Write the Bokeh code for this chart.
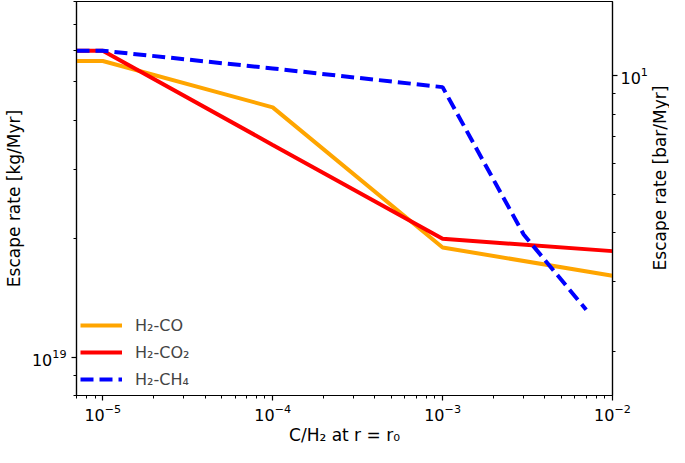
import math
from bokeh.plotting import figure
from bokeh.layouts import row
from bokeh.models import Range1d, LogScale, LogAxis, FixedTicker, LogTickFormatter
from bokeh.core.properties import value
from bokeh.embed import file_html
from bokeh.resources import INLINE

# ---- data ----
c_h2 = [7e-6, 1e-5, 1e-4, 1e-3, 1e-2]
rate_co = [5.65e19, 5.65e19, 4.31e19, 1.90e19, 1.61e19]
rate_co2 = [6.0e19, 6.0e19, 3.46e19, 2.0e19, 1.86e19]
c_h2_ch4 = [7e-6, 1e-5, 1e-4, 1e-3, 3e-3, 7e-3]
rate_ch4 = [6.0e19, 6.0e19, 5.41e19, 4.85e19, 2.05e19, 1.32e19]

series_names = ["H₂-CO", "H₂-CO₂", "H₂-CH₄"]

x_major_ticks = [1e-5, 1e-4, 1e-3, 1e-2]
x_minor_ticks = [7e-6, 8e-6, 9e-6] + [m * d for d in (1e-5, 1e-4, 1e-3) for m in range(2, 10)]

y_major_ticks = [1e19]
y_minor_ticks = [8e18, 9e18] + [m * 1e19 for m in range(2, 9)]

yr_major_ticks = [10]
yr_minor_ticks = [2, 3, 4, 5, 6, 7, 8, 9]

x_lim = (7e-6, 1e-2)
y_lim = (8.0e18, 8.0e19)
yr_lim = (1.544, 15.44)

FONT = "DejaVu Sans"
TOTAL_W, TOTAL_H = 669, 447
SIDE_W = 19

p = figure(width=TOTAL_W - SIDE_W, height=TOTAL_H,
           x_axis_type="log", y_axis_type="log",
           x_range=Range1d(*x_lim), y_range=Range1d(*y_lim),
           extra_y_ranges={"bar": Range1d(*yr_lim)},
           extra_y_scales={"bar": LogScale()},
           output_backend="svg", toolbar_location=None,
           min_border_left=10, min_border_right=30,
           min_border_top=1, min_border_bottom=10)

p.xgrid.visible = False
p.ygrid.visible = False
p.outline_line_color = "black"
p.outline_line_width = 1.2
p.background_fill_color = "white"
p.border_fill_color = "white"

p.line(c_h2, rate_co, line_color="orange", line_width=4, legend_label=series_names[0])
p.line(c_h2, rate_co2, line_color="red", line_width=4, legend_label=series_names[1])
p.line(c_h2_ch4, rate_ch4, line_color="blue", line_width=4, line_dash="13 6",
       legend_label=series_names[2])

def style_axis(ax):
    ax.axis_line_color = "black"
    ax.axis_line_width = 1.2
    ax.major_tick_line_color = "black"
    ax.minor_tick_line_color = "black"
    ax.major_tick_line_width = 1.2
    ax.minor_tick_line_width = 1.0
    ax.major_tick_out = 5
    ax.major_tick_in = 0
    ax.minor_tick_out = 3
    ax.minor_tick_in = 0
    ax.formatter = LogTickFormatter()
    ax.major_label_text_font = FONT
    ax.major_label_text_font_size = "16px"
    ax.major_label_text_color = "black"
    ax.axis_label_text_font = FONT
    ax.axis_label_text_font_size = "17px"
    ax.axis_label_text_font_style = "normal"
    ax.axis_label_text_color = "black"

xa = p.xaxis[0]
style_axis(xa)
xa.ticker = FixedTicker(ticks=x_major_ticks, minor_ticks=x_minor_ticks)
xa.axis_label = "C/H₂ at r = r₀"
xa.major_label_standoff = 3
xa.axis_label_standoff = 1

ya = p.yaxis[0]
style_axis(ya)
ya.ticker = FixedTicker(ticks=y_major_ticks, minor_ticks=y_minor_ticks)
ya.axis_label = "Escape rate [kg/Myr]"
ya.major_label_standoff = 5
ya.axis_label_standoff = 5

yr = LogAxis(y_range_name="bar")
style_axis(yr)
yr.ticker = FixedTicker(ticks=yr_major_ticks, minor_ticks=yr_minor_ticks)
yr.major_label_standoff = 3
p.add_layout(yr, "right")

lg = p.legend[0]
lg.location = "bottom_left"
lg.border_line_color = None
lg.background_fill_alpha = 0
lg.label_text_font = FONT
lg.label_text_font_size = "16px"
lg.glyph_width = 42
lg.glyph_height = 24
lg.label_height = 24
lg.spacing = 3
lg.label_standoff = 13
lg.margin = 4
lg.padding = 10

# narrow strip holding the right-hand axis title (reads bottom-to-top)
side = figure(width=SIDE_W, height=TOTAL_H, x_range=Range1d(0, 1), y_range=Range1d(0, 1),
              output_backend="svg", toolbar_location=None,
              min_border=0, min_border_left=0, min_border_right=0,
              min_border_top=0, min_border_bottom=0)
side.axis.visible = False
side.grid.visible = False
side.outline_line_color = None
side.background_fill_color = "white"
side.border_fill_color = "white"
side.text(x=[0.5], y=[0.552], text=["Escape rate [bar/Myr]"], angle=math.pi / 2,
          text_align="center", text_baseline="middle",
          text_font=value(FONT), text_font_size=value("17px"), text_color="black")

open("out.html", "w").write(file_html(row(p, side), INLINE))
